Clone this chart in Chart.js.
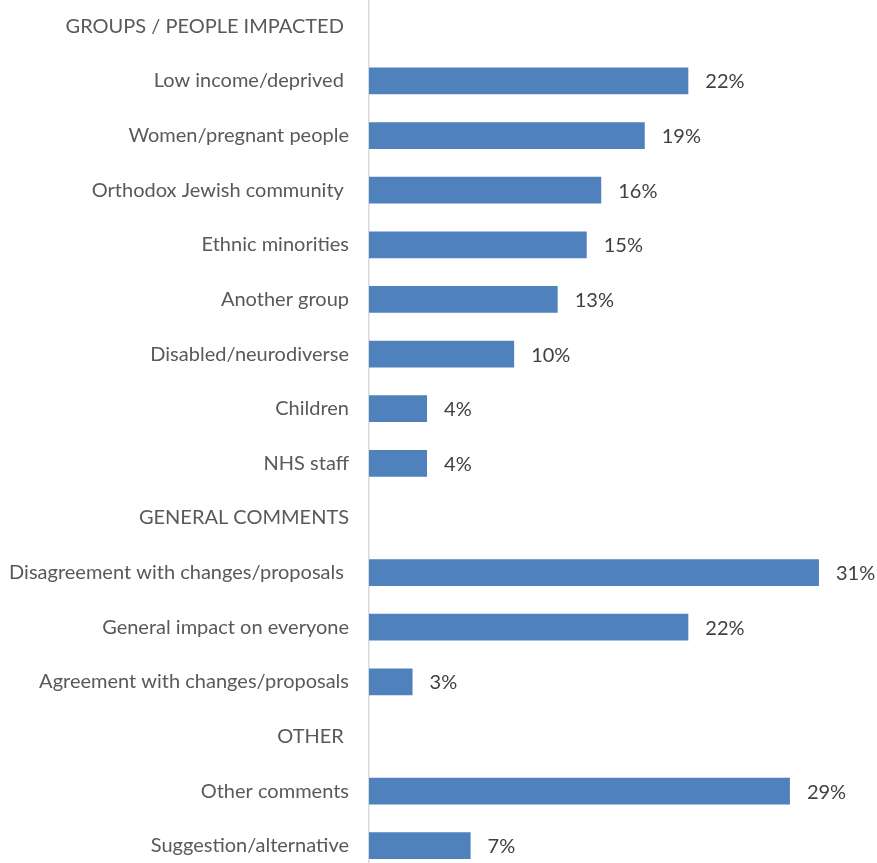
<!DOCTYPE html>
<html>
<head>
<meta charset="utf-8">
<script src="https://cdn.jsdelivr.net/npm/chart.js@4"></script>
<style>
  html, body { margin: 0; padding: 0; background: #fff; overflow: hidden; }
  #wrap { position: relative; width: 877px; height: 874px; margin-top: -1px; }
</style>
</head>
<body>
<div id="wrap"><canvas id="impactChart"></canvas></div>
<script>
// Category rows, top to bottom (section headers carry no value)
const categories = [
    'GROUPS / PEOPLE IMPACTED ',
    'Low income/deprived ',
    'Women/pregnant people',
    'Orthodox Jewish community ',
    'Ethnic minorities',
    'Another group',
    'Disabled/neurodiverse',
    'Children',
    'NHS staff',
    'GENERAL COMMENTS',
    'Disagreement with changes/proposals ',
    'General impact on everyone',
    'Agreement with changes/proposals',
    'OTHER ',
    'Other comments',
    'Suggestion/alternative'
];

// Share of responses, in percent
const shares = [null, 22, 19, 16, 15, 13, 10, 4, 4, null, 31, 22, 3, null, 29, 7];

const barColor = '#4F81BD';
const fontFamily = 'Lato, "Open Sans", sans-serif';

// Writes the percentage just past the end of each bar
const valueLabels = {
    id: 'valueLabels',
    afterDatasetsDraw(chart) {
        const ctx = chart.ctx;
        const meta = chart.getDatasetMeta(0);
        ctx.save();
        ctx.font = '20px ' + fontFamily;
        ctx.fillStyle = '#404040';
        ctx.textAlign = 'left';
        ctx.textBaseline = 'middle';
        meta.data.forEach((bar, i) => {
            const v = shares[i];
            if (v === null) return;
            ctx.fillText(v + '%', bar.x + 17, bar.y + 1);
        });
        ctx.restore();
    }
};

const ctx = document.getElementById('impactChart').getContext('2d');
new Chart(ctx, {
    type: 'bar',
    data: {
        labels: categories,
        datasets: [{
            data: shares,
            backgroundColor: barColor,
            borderWidth: 0,
            categoryPercentage: 1,
            barPercentage: 0.49
        }]
    },
    options: {
        indexAxis: 'y',
        responsive: true,
        maintainAspectRatio: false,
        animation: false,
        layout: { padding: 0 },
        plugins: {
            legend: { display: false },
            tooltip: { enabled: false }
        },
        scales: {
            x: {
                display: false,
                min: 0,
                max: 35
            },
            y: {
                afterFit(scale) {
                    // fixed label column, and rows run to the canvas edges
                    scale.width = 369;
                    scale.paddingTop = 0;
                    scale.paddingBottom = 0;
                },
                grid: { display: false, drawTicks: false },
                border: { display: true, color: '#d9d9d9', width: 1.5 },
                ticks: {
                    padding: 20,
                    color: '#595959',
                    font: { family: fontFamily, size: 20 },
                    autoSkip: false
                }
            }
        }
    },
    plugins: [valueLabels]
});
</script>
</body>
</html>
